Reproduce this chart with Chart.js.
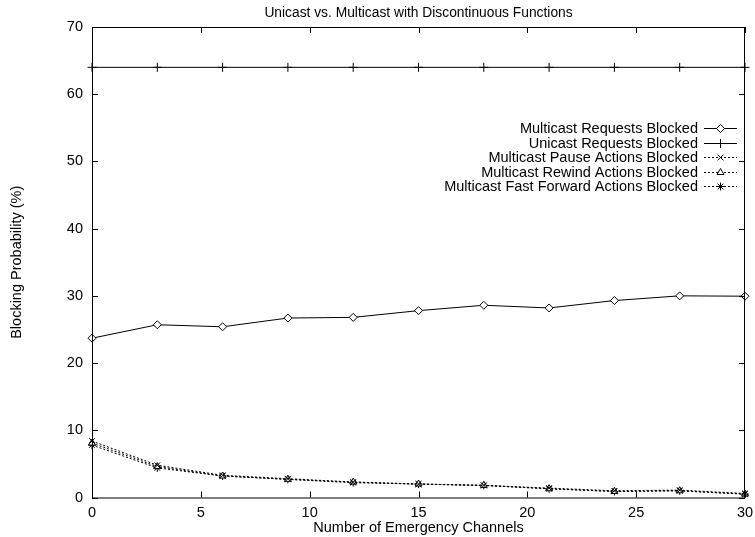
<!DOCTYPE html>
<html>
<head>
<meta charset="utf-8">
<script src="https://cdn.jsdelivr.net/npm/chart.js@4/dist/chart.umd.min.js"></script>
<style>
  html, body { margin: 0; padding: 0; background: #fff; }
  #wrap { width: 755px; height: 537px; }
</style>
</head>
<body>
<div id="wrap"><canvas id="chart"></canvas></div>
<script>
// data
var channels        = [0, 3, 6, 9, 12, 15, 18, 21, 24, 27, 30];
var mcastRequests   = [23.7, 25.7, 25.4, 26.7, 26.8, 27.8, 28.6, 28.2, 29.3, 30.0, 29.95];
var ucastRequests   = [64, 64, 64, 64, 64, 64, 64, 64, 64, 64, 64];
var mcastPause      = [8.4, 4.8, 3.3, 2.8, 2.3, 2.0, 1.8, 1.4, 1.0, 1.1, 0.6];
var mcastRewind     = [8.1, 4.6, 3.2, 2.7, 2.3, 2.0, 1.8, 1.3, 0.9, 1.0, 0.5];
var mcastFastFwd    = [7.8, 4.4, 3.2, 2.7, 2.2, 2.0, 1.8, 1.3, 0.9, 1.0, 0.5];

var xTicks = [0, 5, 10, 15, 20, 25, 30];
var yTicks = [0, 10, 20, 30, 40, 50, 60, 70];

var FONT = 'Liberation Sans, Arial, Helvetica, sans-serif';
var FS = 14.5;

function pts(ys){
    return channels.map(function(x, i){ return {x: x, y: ys[i]}; });
}

function series(label, ys, style, dashed){
    return {
        label: label,
        data: pts(ys),
        borderColor: '#000',
        backgroundColor: '#fff',
        borderWidth: 1,
        borderDash: dashed ? [2, 2] : [],
        pointStyle: style,
        pointRadius: style == 'cross' ? 4.5 : 4,
        pointBorderColor: '#000',
        pointBackgroundColor: '#fff',
        pointBorderWidth: 1,
        tension: 0,
        fill: false,
        clip: false
    };
}

var datasets = [
    series('Multicast Requests Blocked', mcastRequests, 'rectRot', false),
    series('Unicast Requests Blocked', ucastRequests, 'cross', false),
    series('Multicast Pause Actions Blocked', mcastPause, 'crossRot', true),
    series('Multicast Rewind Actions Blocked', mcastRewind, 'triangle', true),
    series('Multicast Fast Forward Actions Blocked', mcastFastFwd, 'star', true)
];

// gnuplot style frame with inward ticks on all four sides, plus title and y label
var framePlugin = {
    id: 'frame',
    afterDatasetsDraw: function(chart){
        var ctx = chart.ctx, a = chart.chartArea;
        var xs = chart.scales.x, ys = chart.scales.y;
        ctx.save();
        ctx.strokeStyle = '#000';
        ctx.lineWidth = 1;
        ctx.strokeRect(a.left + 0.5, a.top + 0.5, a.right - a.left - 1, a.bottom - a.top);
        ctx.beginPath();
        xTicks.forEach(function(v){
            var px = Math.round(xs.getPixelForValue(v)) + 0.5;
            ctx.moveTo(px, a.bottom); ctx.lineTo(px, a.bottom - 6);
            ctx.moveTo(px, a.top); ctx.lineTo(px, a.top + 6);
        });
        yTicks.forEach(function(v){
            var py = Math.round(ys.getPixelForValue(v)) + 0.5;
            ctx.moveTo(a.left, py); ctx.lineTo(a.left + 6, py);
            ctx.moveTo(a.right, py); ctx.lineTo(a.right - 6, py);
        });
        ctx.stroke();

        ctx.fillStyle = '#000';
        ctx.textAlign = 'center';
        ctx.textBaseline = 'middle';
        ctx.font = '13.8px ' + FONT;
        ctx.fillText('Unicast vs. Multicast with Discontinuous Functions', (a.left + a.right) / 2, 13);

        ctx.font = FS + 'px ' + FONT;
        ctx.translate(17, (a.top + a.bottom) / 2);
        ctx.rotate(-Math.PI / 2);
        ctx.fillText('Blocking Probability (%)', 0, 0);
        ctx.restore();
    }
};

// key in the upper right: text, then line sample with marker
var keyPlugin = {
    id: 'key',
    afterDatasetsDraw: function(chart){
        var ctx = chart.ctx;
        var textRight = 698, x0 = 704, x1 = 737, top = 128, step = 14.6;
        ctx.save();
        ctx.font = FS + 'px ' + FONT;
        ctx.textAlign = 'right';
        ctx.textBaseline = 'middle';
        chart.data.datasets.forEach(function(ds, i){
            var y = Math.round(top + i * step) + 0.5;
            ctx.fillStyle = '#000';
            ctx.fillText(ds.label, textRight, y);
            ctx.strokeStyle = '#000';
            ctx.lineWidth = 1;
            ctx.setLineDash(ds.borderDash);
            ctx.beginPath();
            ctx.moveTo(x0, y); ctx.lineTo(x1, y);
            ctx.stroke();
            ctx.setLineDash([]);
            ctx.fillStyle = '#fff';
            Chart.helpers.drawPoint(ctx, {
                pointStyle: ds.pointStyle,
                radius: ds.pointRadius,
                borderWidth: 1,
                rotation: 0
            }, (x0 + x1) / 2, y);
        });
        ctx.restore();
    }
};

new Chart(document.getElementById('chart'), {
    type: 'line',
    data: { datasets: datasets },
    plugins: [framePlugin, keyPlugin],
    options: {
        responsive: true,
        maintainAspectRatio: false,
        animation: false,
        layout: { padding: { left: 0, right: 10, top: 27, bottom: 0 } },
        plugins: {
            legend: { display: false },
            tooltip: { enabled: false },
            title: { display: false }
        },
        scales: {
            x: {
                type: 'linear',
                min: 0, max: 30,
                afterBuildTicks: function(s){ s.ticks = xTicks.map(function(v){ return {value: v}; }); },
                afterFit: function(s){ s.height = 39.5; s.paddingLeft = 0; s.paddingRight = 0; },
                grid: { display: false, drawTicks: false },
                border: { display: false },
                ticks: {
                    color: '#000', padding: 7, maxRotation: 0,
                    font: { family: FONT, size: FS }
                },
                title: {
                    display: true,
                    text: 'Number of Emergency Channels',
                    color: '#000',
                    padding: 0,
                    font: { family: FONT, size: FS }
                }
            },
            y: {
                type: 'linear',
                min: 0, max: 70,
                afterBuildTicks: function(s){ s.ticks = yTicks.map(function(v){ return {value: v}; }); },
                afterFit: function(s){ s.width = 92; s.paddingTop = 0; s.paddingBottom = 0; },
                grid: { display: false, drawTicks: false },
                border: { display: false },
                ticks: {
                    color: '#000', padding: 9,
                    font: { family: FONT, size: FS }
                }
            }
        }
    }
});
</script>
</body>
</html>
